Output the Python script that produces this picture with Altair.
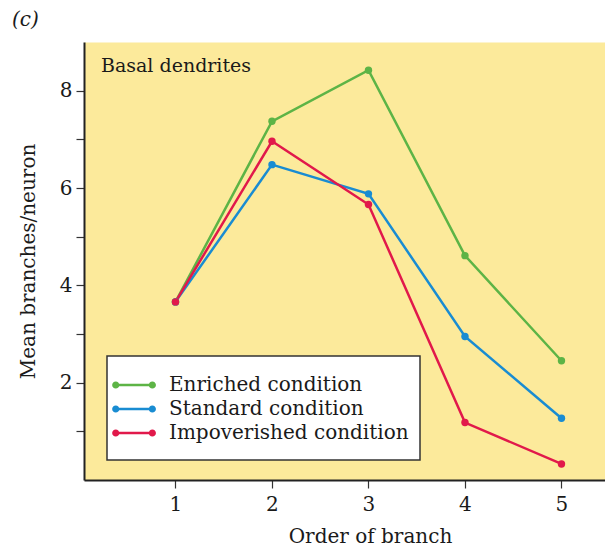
import altair as alt
import pandas as pd

# ---- data ----
orders = [1, 2, 3, 4, 5]
enriched = [3.66, 7.37, 8.42, 4.61, 2.45]
standard = [3.66, 6.48, 5.88, 2.95, 1.27]
impoverished = [3.66, 6.96, 5.66, 1.18, 0.33]
conditions = ["Enriched condition", "Standard condition", "Impoverished condition"]
colors = ["#5db446", "#198cd2", "#e1194b"]
y_tick_values = [1, 2, 3, 4, 5, 6, 7, 8]
x_tick_values = [1, 2, 3, 4, 5]

rows = []
for name, vals in zip(conditions, [enriched, standard, impoverished]):
    for o, v in zip(orders, vals):
        rows.append({"order": o, "value": v, "condition": name})
df = pd.DataFrame(rows)
one = pd.DataFrame({"k": [0]})

FONT = "DejaVu Serif"
INK = "#1a1a1a"

# legend symbol: a short line with a dot at each end (all clockwise so nothing is hollowed)
hw, cx, r, t = 2.185, 1.835, 0.36, 0.125
sym_path = (
    f"M{-cx},{-t}H{cx}V{t}H{-cx}Z "
    f"M{-hw},0a{r},{r} 0 1,1 {2*r},0a{r},{r} 0 1,1 {-2*r},0Z "
    f"M{cx - r},0a{r},{r} 0 1,1 {2*r},0a{r},{r} 0 1,1 {-2*r},0Z"
)

color_scale = alt.Scale(domain=conditions, range=colors)
legend = alt.Legend(
    orient="none",
    legendX=40,
    legendY=333,
    title=None,
    symbolType=sym_path,
    symbolSize=400,
    symbolStrokeWidth=0,
    symbolOpacity=1,
    labelFont=FONT,
    labelFontSize=20,
    labelColor=INK,
    labelOffset=25,
    labelLimit=400,
    rowPadding=4,
    padding=0,
)
color_enc = alt.Color("condition:N", scale=color_scale, legend=legend)

x_enc = alt.X(
    "order:Q",
    scale=alt.Scale(domain=[0.052, 5.451], nice=False, zero=False),
    axis=alt.Axis(
        values=x_tick_values,
        format="d",
        title="Order of branch",
        titleX=286,
        titleY=62,
        titleAlign="center",
        titleBaseline="alphabetic",
        labelPadding=6,
    ),
)
y_enc = alt.Y(
    "value:Q",
    scale=alt.Scale(domain=[0, 9], nice=False),
    axis=alt.Axis(
        values=y_tick_values,
        labelExpr="datum.value % 2 === 0 ? datum.label : ''",
        title="Mean branches/neuron",
        titleX=-56,
        titleY=219,
        titleAlign="center",
        titleBaseline="middle",
        labelPadding=4,
    ),
)

legend_box = alt.Chart(one).mark_rect(
    fill="white", stroke="#333333", strokeWidth=1.5
).encode(
    x=alt.value(23), x2=alt.value(336), y=alt.value(314), y2=alt.value(418)
)

lines = alt.Chart(df).mark_line(strokeWidth=2.5).encode(
    x=x_enc,
    y=y_enc,
    color=color_enc,
    detail="condition:N",
)

points = alt.Chart(df).mark_point(filled=True, size=55, opacity=1).encode(
    x="order:Q",
    y="value:Q",
    color=color_enc,
)

panel_label = alt.Chart(one).mark_text(
    text="Basal dendrites", align="left", baseline="alphabetic",
    font=FONT, fontSize=19, color=INK,
).encode(x=alt.value(17), y=alt.value(30))

fig_label = alt.Chart(one).mark_text(
    text="(c)", align="left", baseline="middle",
    font=FONT, fontSize=20, fontStyle="italic", color=INK,
).encode(x=alt.value(-72), y=alt.value(-22))

chart = alt.layer(legend_box, lines, points, panel_label, fig_label).properties(
    width=521,
    height=438,
    autosize=alt.AutoSizeParams(type="none"),
    padding={"left": 76, "top": 34, "right": 0, "bottom": 68},
).configure_view(
    fill="#fcea9b", stroke="transparent"
).configure_axis(
    grid=False,
    domainColor="#222222",
    domainWidth=2,
    tickColor="#333333",
    tickWidth=1.2,
    tickSize=8,
    labelFont=FONT,
    labelFontSize=20,
    labelColor=INK,
    titleFont=FONT,
    titleFontSize=20,
    titleFontWeight="normal",
    titleColor=INK,
)

chart.save("out.html", embed_options={"renderer": "svg", "actions": False})
